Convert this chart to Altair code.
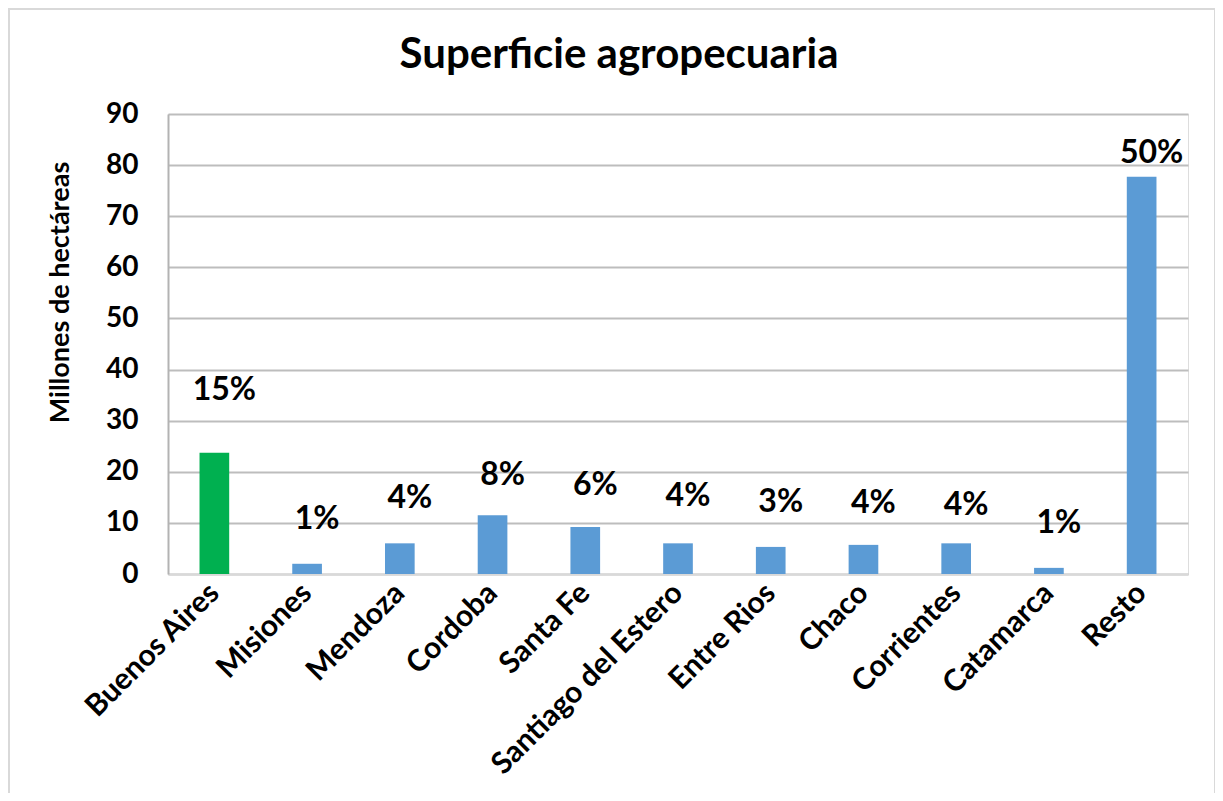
import altair as alt
import pandas as pd

categories = ["Buenos Aires", "Misiones", "Mendoza", "Cordoba", "Santa Fe",
              "Santiago del Estero", "Entre Rios", "Chaco", "Corrientes",
              "Catamarca", "Resto"]
values = [23.7, 2.0, 6.0, 11.5, 9.2, 6.0, 5.3, 5.7, 6.0, 1.2, 77.7]
pct_labels = ["15%", "1%", "4%", "8%", "6%", "4%", "3%", "4%", "4%", "1%", "50%"]
label_y = [36.0, 10.8, 14.9, 19.4, 17.4, 15.3, 14.1, 13.9, 13.5, 10.0, 82.4]
title_text = ["Superficie agropecuaria"]

df = pd.DataFrame({"provincia": categories, "valor": values,
                   "pct": pct_labels, "ly": label_y})
df_title = pd.DataFrame({"t": title_text})

FONT = "Lato"
W, H = 1020, 460

x_enc = alt.X("provincia:N", sort=categories,
              scale=alt.Scale(paddingInner=0.68, paddingOuter=0.34),
              axis=alt.Axis(title=None, labelAngle=-45, labelAlign="right",
                            labelBaseline="middle", labelPadding=14,
                            labelFont=FONT, labelFontWeight="bold",
                            labelFontSize=30, labelColor="#000000",
                            ticks=False, domain=True, domainColor="#d9d9d9",
                            domainWidth=2, grid=False, labelLimit=400))

bars = alt.Chart(df).mark_bar().encode(
    x=x_enc,
    y=alt.Y("valor:Q", scale=alt.Scale(domain=[0, 90], nice=False),
            axis=alt.Axis(title="Millones de hectáreas", values=list(range(0, 100, 10)),
                          labelFont=FONT, labelFontWeight="bold", labelFontSize=28,
                          labelColor="#000000", labelPadding=30, ticks=False,
                          domain=True, domainColor="#b3b3b3", domainWidth=2,
                          grid=True, gridColor="#bdbdbd", gridWidth=2,
                          titleFont=FONT, titleFontWeight="bold", titleFontSize=27,
                          titleColor="#000000", titleAngle=-90,
                          titleAlign="center", titleBaseline="middle",
                          titleX=-108, titleY=178)),
    color=alt.condition(alt.datum.provincia == "Buenos Aires",
                        alt.value("#00B050"), alt.value("#5B9BD5")),
)

texts = alt.Chart(df).mark_text(font=FONT, fontWeight="bold", fontSize=32,
                                color="#000000", baseline="middle", dx=10).encode(
    x=alt.X("provincia:N", sort=categories),
    y=alt.Y("ly:Q"),
    text="pct:N",
)

title = alt.Chart(df_title).mark_text(font=FONT, fontWeight="bold", fontSize=42,
                                      color="#000000", baseline="alphabetic",
                                      align="center", clip=False).encode(
    x=alt.value(451), y=alt.value(-46), text="t:N",
)

border = alt.Chart(df_title).mark_rect(fill=None, stroke="#d9d9d9", strokeWidth=2,
                                       clip=False).encode(
    x=alt.value(-159), x2=alt.value(1047),
    y=alt.value(-105), y2=alt.value(682),
)

chart = alt.layer(border, bars, texts, title).properties(
    width=W, height=H,
    autosize=alt.AutoSizeParams(type="none"),
    padding={"left": 160, "top": 106, "right": 27, "bottom": 219},
).configure_view(stroke="#b3b3b3", strokeWidth=2).configure(background="#ffffff")

chart.save("out.html", embed_options={"renderer": "svg", "actions": False})
